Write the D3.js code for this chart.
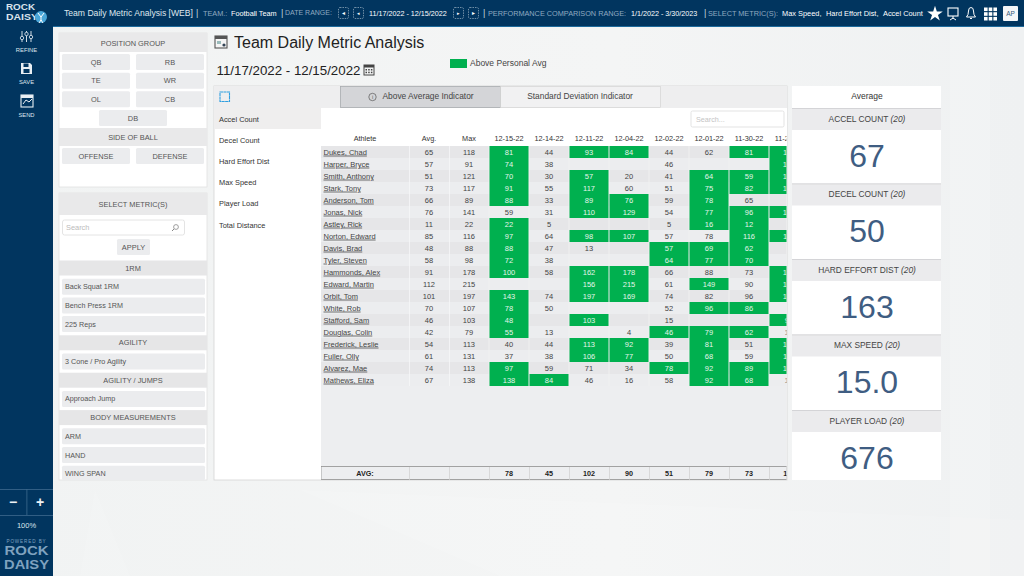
<!DOCTYPE html>
<html><head><meta charset="utf-8">
<script src="https://cdnjs.cloudflare.com/ajax/libs/d3/7.8.5/d3.min.js"></script>
<style>html,body{margin:0;padding:0;background:#f3f4f5;overflow:hidden}svg{display:block}text{font-family:"Liberation Sans",Arial,sans-serif}</style>
</head><body><svg id="c" width="1024" height="576"></svg>
<script>
// ---- data ----
const dates = ["12-15-22","12-14-22","12-11-22","12-04-22","12-02-22","12-01-22","11-30-22","11-29-22"];
const athletes = ["Dukes, Chad","Harper, Bryce","Smith, Anthony","Stark, Tony","Anderson, Tom","Jonas, Nick","Astley, Rick","Norton, Edward","Davis, Brad","Tyler, Steven","Hammonds, Alex","Edward, Martin","Orbit, Tom","White, Rob","Stafford, Sam","Douglas, Colin","Frederick, Leslie","Fuller, Olly","Alvarez, Mae","Mathews, Eliza"];
const avgVals = [65,57,51,73,66,76,11,85,48,58,91,112,101,70,46,42,54,61,74,67];
const maxVals = [118,91,121,117,89,141,22,116,88,98,178,215,197,107,103,79,113,131,113,138];
const col1215 = [81,74,70,91,88,59,22,97,88,72,100,null,143,78,48,55,40,37,97,138];
const col1214 = [44,38,30,55,33,31,5,64,47,38,58,null,74,50,null,13,44,38,59,84];
const col1211 = [93,null,57,117,89,110,null,98,13,null,162,156,197,null,103,null,113,106,71,46];
const col1204 = [84,null,20,60,76,129,null,107,null,null,178,215,169,null,null,4,92,77,34,16];
const col1202 = [44,46,41,51,59,54,5,57,57,64,66,61,74,52,15,46,39,50,78,58];
const col1201 = [62,null,64,75,78,77,16,78,69,77,88,149,82,96,null,79,81,68,92,92];
const col1130 = [81,null,59,82,65,96,12,116,62,70,73,90,96,86,null,62,51,59,89,68];
const col1129 = [110,102,108,122,null,131,null,118,null,null,152,168,171,null,96,14,105,118,104,15];
const columns = [col1215,col1214,col1211,col1204,col1202,col1201,col1130,col1129];
const avgRow = [78,45,102,90,51,79,73,119];
const positions = ["QB","RB","TE","WR","OL","CB","DB"];
const sides = ["OFFENSE","DEFENSE"];
const metricTabs = ["Accel Count","Decel Count","Hard Effort Dist","Max Speed","Player Load","Total Distance"];
const metricGroups = [["1RM",["Back Squat 1RM","Bench Press 1RM","225 Reps"]],["AGILITY",["3 Cone / Pro Agility"]],["AGILITY / JUMPS",["Approach Jump"]],["BODY MEASUREMENTS",["ARM","HAND","WING SPAN"]]];
const cardNames = ["ACCEL COUNT","DECEL COUNT","HARD EFFORT DIST","MAX SPEED","PLAYER LOAD"];
const cardValues = ["67","50","163","15.0","676"];
const cardN = 20;

const NAVY="#01355f", GREEN="#00b04f";
const svg=d3.select("#c");
const rect=(p,x,y,w,h,f,o={})=>{const r=p.append("rect").attr("x",x).attr("y",y).attr("width",w).attr("height",h).attr("fill",f);for(const k in o)r.attr(k,o[k]);return r;};
const txt=(p,x,y,s,size,f,o={})=>{const t=p.append("text").attr("x",x).attr("y",y).attr("dy","0.35em").attr("font-size",size).attr("fill",f).text(s);for(const k in o)t.attr(k,o[k]);return t;};
const MID={"text-anchor":"middle"};

// background
const defs=svg.append("defs");
const g0=defs.append("linearGradient").attr("id","bg").attr("x1",0).attr("x2",1).attr("y1",0).attr("y2",0);
g0.append("stop").attr("offset","0").attr("stop-color","#f1f3f3");
g0.append("stop").attr("offset","0.6").attr("stop-color","#f4f5f5");
g0.append("stop").attr("offset","1").attr("stop-color","#eff1f2");
rect(svg,0,0,1024,576,"url(#bg)");
svg.append("path").attr("d","M80 576L95 490L130 576Z M300 490L1024 520L1024 576L500 576Z").attr("fill","#fff").attr("opacity",0.12);
rect(svg,950,26,40,550,"#fff",{opacity:0.15});

// top bar and side bar
rect(svg,0,0,1024,26,NAVY);
rect(svg,0,26,1024,1,"#1d6a9c");
rect(svg,0,0,53,576,NAVY);

const topBar=svg.append("g");
const DIM="#8fa9c0";
txt(topBar,64,13,"Team Daily Metric Analysis [WEB]",8.6,"#dfe7ee");
txt(topBar,196,13,"|",9,"#c8d4df");
txt(topBar,203,13,"TEAM.:",7.3,DIM);
txt(topBar,231,13,"Football Team",7.3,"#fff");
txt(topBar,281,13,"|",9,"#c8d4df");
txt(topBar,285,13,"DATE RANGE:",7,DIM);
[[338,"\u25C4"],[353,"\u25C2"],[453,"\u25B8"],[468,"\u25BA"]].forEach(([x,s])=>{
  rect(topBar,x+.5,7.5,10,11,"none",{stroke:"#9fb4c6","stroke-width":.7,rx:1.5,"stroke-dasharray":"1.5 1"});
  txt(topBar,x+5.5,13,s,5,"#fff",MID);
});
txt(topBar,369,13,"11/17/2022 - 12/15/2022",7.2,"#fff");
txt(topBar,483,13,"|",9,"#c8d4df");
txt(topBar,488,13,"PERFORMANCE COMPARISON RANGE:",7.3,DIM);
txt(topBar,631,13,"1/1/2022 - 3/30/2023",7.2,"#fff");
txt(topBar,704,13,"|",9,"#c8d4df");
txt(topBar,708,13,"SELECT METRIC(S):",7.3,DIM);
txt(topBar,782,13,"Max Speed,",7.4,"#fff");
txt(topBar,826,13,"Hard Effort Dist,",7.4,"#fff");
txt(topBar,883,13,"Accel Count",7.4,"#fff");
// star, monitor, bell, grid, avatar
const star=d3.symbol().type(d3.symbolStar).size(75);
topBar.append("path").attr("d",star()).attr("transform","translate(935,14)").attr("fill","#fff");
rect(topBar,948,8,10,8,"none",{stroke:"#fff","stroke-width":1.1});
topBar.append("path").attr("d","M953 16V19M950 20L953 18L956 20").attr("stroke","#fff").attr("fill","none");
topBar.append("path").attr("d","M966.5 17Q968.5 15 968.5 11Q968.5 7.5 971 7.5Q973.5 7.5 973.5 11Q973.5 15 975.5 17ZM970 18.5H972").attr("stroke","#fff").attr("fill","none").attr("stroke-width",1);
d3.range(3).forEach(i=>d3.range(3).forEach(j=>rect(topBar,984+i*4.7,7.5+j*4.7,3.6,3.6,"#fff")));
rect(topBar,1003,6,15,15,"#f4f6f8",{rx:1});
txt(topBar,1010.5,13.5,"AP",6.5,"#35597a",MID);

// logo
const logo=svg.append("g");
txt(logo,6,7.5,"ROCK",8.2,"#d9e3ec",{"font-weight":"bold","textLength":29,"lengthAdjust":"spacingAndGlyphs"});
txt(logo,6,17,"DAISY",8.2,"#d9e3ec",{"font-weight":"bold","textLength":32,"lengthAdjust":"spacingAndGlyphs"});
logo.append("circle").attr("cx",41).attr("cy",17).attr("r",6).attr("fill","#49a6d8");
logo.append("path").attr("d","M38 13L41 17L44 13M41 17V21M39 23L41 20L43 23").attr("stroke","#fff").attr("fill","none").attr("stroke-width",1);

// side actions
const side=svg.append("g");
txt(side,26.5,50,"REFINE",5.8,"#dce5ec",MID);
txt(side,26.5,82,"SAVE",5.8,"#dce5ec",MID);
txt(side,26.5,115,"SEND",5.8,"#dce5ec",MID);
[22,26.5,31].forEach((x,i)=>{
  side.append("line").attr("x1",x).attr("x2",x).attr("y1",31).attr("y2",42).attr("stroke","#e8eef3").attr("stroke-width",.9);
  side.append("circle").attr("cx",x).attr("cy",[38,34,37][i]).attr("r",1.7).attr("fill",NAVY).attr("stroke","#e8eef3").attr("stroke-width",.8);
});
side.append("path").attr("d","M21 63H30L32 65V74H21Z").attr("fill","#e8eef3");
rect(side,23.5,63.5,5,3.5,NAVY);rect(side,23.5,69,6,4,NAVY);
rect(side,21,95,12,12,"none",{stroke:"#e8eef3","stroke-width":1.1});
rect(side,21,95,12,3,"#e8eef3");
side.append("path").attr("d","M23 104L26 100L29 102L32 99").attr("stroke","#e8eef3").attr("fill","none");
// zoom controls
[489,515].forEach(y=>rect(side,0,y,53,.8,"#3e6a8e"));
rect(side,26.5,489,.8,26,"#3e6a8e");
txt(side,13,502,"\u2212",14,"#eef3f6",{"text-anchor":"middle","font-weight":"bold"});
txt(side,40,502,"+",14,"#eef3f6",{"text-anchor":"middle","font-weight":"bold"});
txt(side,26.5,525.5,"100%",7.5,"#dce5ec",MID);
txt(side,26.5,541.5,"POWERED BY",4.6,"#7fa2bf",{"text-anchor":"middle","letter-spacing":"0.9"});
txt(side,26.5,551,"ROCK",12.4,"#7fa2bf",{"text-anchor":"middle","font-weight":"bold","textLength":44,"lengthAdjust":"spacingAndGlyphs"});
txt(side,26.5,565,"DAISY",12.4,"#7fa2bf",{"text-anchor":"middle","font-weight":"bold","textLength":45,"lengthAdjust":"spacingAndGlyphs"});

// left: position group
const BTN="#ebecee", HDR="#e9e9ea", TXT="#555";
const lp=svg.append("g");
rect(lp,59,33,148,154,"#fff",{stroke:"#e2e2e2","stroke-width":.8});
rect(lp,59,33,148,19,HDR);
txt(lp,133,43.5,"POSITION GROUP",7.4,TXT,MID);
const posX=d3.scalePoint().domain([0,1]).range([96,170]);
const posY=d3.scalePoint().domain([0,1,2,3]).range([62,118]);
positions.forEach((s,i)=>{
  const r=Math.floor(i/2), cx=i===6?133:posX(i%2), cy=posY(r);
  rect(lp,cx-34,cy-8,68,16,BTN,{rx:1.5});
  txt(lp,cx,cy,s,7.4,TXT,MID);
});
rect(lp,59,128,148,18,HDR);
txt(lp,133,137,"SIDE OF BALL",7.4,TXT,MID);
sides.forEach((s,i)=>{const cx=posX(i);rect(lp,cx-34,148,68,16,BTN,{rx:1.5});txt(lp,cx,156,s,7.4,TXT,MID);});

// left: metric selector
rect(lp,59,193,148,287,"#fff",{stroke:"#e2e2e2","stroke-width":.8});
rect(lp,59,193,148,22,HDR);
txt(lp,133,204,"SELECT METRIC(S)",7.4,TXT,MID);
rect(lp,62.5,220,122,15,"#fff",{stroke:"#ddd","stroke-width":.8,rx:2});
txt(lp,66,227.5,"Search",7.4,"#bbb");
lp.append("circle").attr("cx",176).attr("cy",227).attr("r",2.4).attr("fill","none").attr("stroke","#888").attr("stroke-width",.8);
lp.append("path").attr("d","M174 229L172 231").attr("stroke","#888");
rect(lp,117,239,33,16,BTN,{rx:1.5});
txt(lp,133.5,247,"APPLY",7.4,TXT,MID);
let yy=268;
metricGroups.forEach(([h,items])=>{
  rect(lp,59,yy-7.5,148,15,"#e6e6e7");
  txt(lp,133,yy,h,7.4,TXT,MID);
  yy+=18.7;
  items.forEach(s=>{
    rect(lp,62,yy-8,143,Math.min(16,480-(yy-8)),BTN,{rx:1.5});
    txt(lp,65,yy,s,7.2,TXT);
    yy+=18.7;
  });
});

// title block
const tb=svg.append("g");
rect(tb,215,36,12,12,"#f5f5f5",{stroke:"#555","stroke-width":1.1});
rect(tb,215,36,12,3,"#555");
rect(tb,217,41,4,3,"#9bb");tb.append("circle").attr("cx",224).attr("cy",45).attr("r",1.6).attr("fill","#345");
txt(tb,234,42,"Team Daily Metric Analysis",16,"#222");
txt(tb,216.5,70,"11/17/2022 - 12/15/2022",13.3,"#222");
rect(tb,364,65,10,10,"none",{stroke:"#444","stroke-width":1});
rect(tb,364,65,10,2.5,"#444");
d3.range(3).forEach(i=>d3.range(2).forEach(j=>rect(tb,365.5+i*2.7,69+j*2.7,1.5,1.5,"#444")));
rect(tb,450,59,17,9,GREEN);
txt(tb,470,63.5,"Above Personal Avg",8.5,"#444");

// main panel
const mp=svg.append("g");
rect(mp,214,86,573,394,"#fff",{stroke:"#d4d4d4","stroke-width":.8});
rect(mp,214,86,573,22,"#eeeeef");
rect(mp,340.5,86.5,160,21,"#d4d5d8",{stroke:"#a9abae","stroke-width":.8});
rect(mp,500.5,86.5,160,21,"#f1f1f2",{stroke:"#cfcfcf","stroke-width":.6});
mp.append("circle").attr("cx",372.5).attr("cy",97).attr("r",3.7).attr("fill","none").attr("stroke","#555").attr("stroke-width",.7);
txt(mp,372.5,97,"i",5.5,"#555",MID);
txt(mp,382.5,96.5,"Above Average Indicator",8.4,"#444");
txt(mp,580,96.5,"Standard Deviation Indicator",8.4,"#444",MID);
rect(mp,220,92,9.5,9.5,"none",{stroke:"#2f9fe0","stroke-width":1.1,"stroke-dasharray":"3 .4"});
// metric tabs
const tabY=d3.scalePoint().domain(metricTabs).range([119,225]);
rect(mp,214,108,107,21,"#efeeee");
metricTabs.forEach(s=>txt(mp,219,tabY(s),s,7.4,"#333"));

// ---- table ----
const cw=40;
const x=d3.scaleBand().domain(dates).range([489,489+cw*dates.length]);
const rowY=d3.scaleBand().domain(athletes).range([146,386]);
const table=svg.append("g");
rect(table,321,108,466,38,"#fff");
rect(table,691,111,93,16,"#fff",{stroke:"#dcdcdc","stroke-width":.8,rx:1.5});
txt(table,696,119,"Search...",7.2,"#c4c4c4");
rect(table,321,146,465.5,321,"#edeef0");
defs.append("clipPath").attr("id","tc").append("rect").attr("x",321).attr("y",108).attr("width",465.5).attr("height",372);
const t=table.append("g").attr("clip-path","url(#tc)");
// header
t.selectAll(null).data(dates).join("text").attr("x",d=>x(d)+x.bandwidth()/2).attr("y",138).attr("dy","0.35em").attr("text-anchor","middle").attr("font-size",7.3).attr("fill","#333").text(d=>d);
txt(t,365,138,"Athlete",7.3,"#333",MID);
txt(t,429,138,"Avg.",7.3,"#333",MID);
txt(t,469,138,"Max",7.3,"#333",MID);
// rows
t.selectAll(null).data(athletes).join("rect").attr("x",321).attr("width",465.5).attr("y",d=>rowY(d)).attr("height",rowY.bandwidth()).attr("fill",(d,i)=>i%2?"#ecedef":"#e6e6e8");
[409,449].forEach(v=>rect(t,v,146,.8,240,"#f7f7f8"));
dates.forEach(d=>rect(t,x(d)-.4,146,.8,240,"#f2f2f3"));
t.selectAll(null).data(athletes).join("text").attr("x",323.5).attr("y",d=>rowY(d)+6).attr("dy","0.35em").attr("font-size",7.5).attr("fill","#444").attr("text-decoration","underline").text(d=>d);
const statCol=(arr,cx)=>t.selectAll(null).data(arr).join("text").attr("x",cx).attr("y",(d,i)=>rowY(athletes[i])+6).attr("dy","0.35em").attr("text-anchor","middle").attr("font-size",7.5).attr("fill","#444").text(d=>d);
statCol(avgVals,429);statCol(maxVals,469);
columns.forEach((col,ci)=>{
  const cells=col.map((v,r)=>({v,r,above:v!==null&&v>avgVals[r]}));
  t.selectAll(null).data(cells.filter(c=>c.above)).join("rect")
    .attr("x",x(dates[ci])+.5).attr("width",x.bandwidth()-1)
    .attr("y",c=>rowY(athletes[c.r])).attr("height",rowY.bandwidth()).attr("fill",GREEN);
  t.selectAll(null).data(cells.filter(c=>c.v!==null)).join("text")
    .attr("x",x(dates[ci])+x.bandwidth()/2).attr("y",c=>rowY(athletes[c.r])+6).attr("dy","0.35em")
    .attr("text-anchor","middle").attr("font-size",7.5).attr("fill",c=>c.above?"#e4f5ea":"#444").text(c=>c.v);
});
// footer
rect(t,321,466.5,466,13,"#edeef0",{stroke:"#8f8f8f","stroke-width":.8});
[409,449].forEach(v=>rect(t,v,467,.7,13,"#cfcfcf"));
dates.forEach(d=>rect(t,x(d),467,.7,13,"#cfcfcf"));
txt(t,365,473.5,"AVG:",7.2,"#222",{"text-anchor":"middle","font-weight":"bold"});
t.selectAll(null).data(avgRow).join("text").attr("x",(d,i)=>x(dates[i])+cw/2).attr("y",473.5).attr("dy","0.35em").attr("text-anchor","middle").attr("font-size",7.2).attr("font-weight","bold").attr("fill","#222").text(d=>d);

// right cards
const rp=svg.append("g");
rect(rp,792,86,149,394,"#fff");
txt(rp,867,96.5,"Average",8.5,"#333",MID);
const cardY=d3.scalePoint().domain(cardNames).range([108,410]);
cardNames.forEach((n,i)=>{
  const y=cardY(n);
  rect(rp,792,y,149,22,"#ebebed");
  rect(rp,792,y,149,.8,"#cfcfd1");
  const h=txt(rp,867,y+11,n+" ",8.4,"#444",MID);
  h.append("tspan").attr("font-style","italic").text("("+cardN+")");
  txt(rp,867,y+47.5,cardValues[i],32,"#3f5d82",MID);
});
</script></body></html>
